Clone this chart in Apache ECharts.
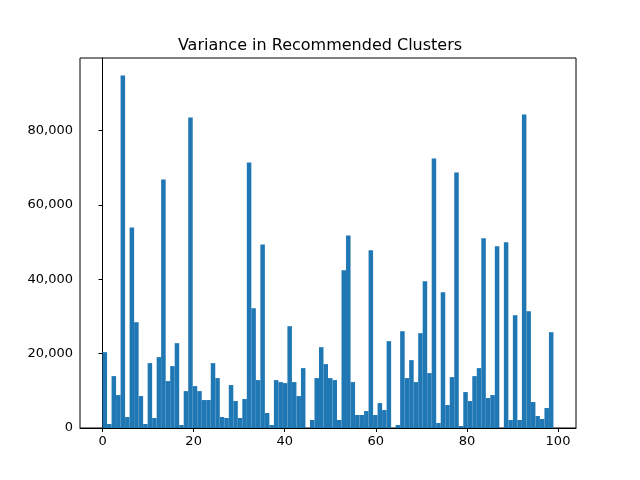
<!DOCTYPE html>
<html>
<head>
<meta charset="utf-8">
<script src="https://cdn.jsdelivr.net/npm/echarts@6/dist/echarts.min.js"></script>
<style>
  html, body { margin: 0; padding: 0; background: #fff; }
  #chart { width: 640px; height: 480px; }
</style>
</head>
<body>
<div id="chart"></div>
<script>
const TITLE = 'Variance in Recommended Clusters';
const BIN_WIDTH = 0.99;
const xTicks = [0, 20, 40, 60, 80, 100];
const yTicks = [0, 20000, 40000, 60000, 80000];

// bar heights, one per cluster 0..99
const variance = [
  20400, 1070, 13960, 8860, 94800, 2950, 53970, 28460, 8590, 1070,
  17450, 2690, 19060, 66860, 12620, 16650, 22820, 800, 9930, 83500,
  11280, 9930, 7520, 7520, 17450, 13430, 2950, 2690, 11550, 7250,
  2690, 7790, 71420, 32220, 12890, 49400, 4030, 800, 12890, 12350,
  12080, 27390, 12350, 8590, 16110, 0, 2150, 13430, 21750, 17180,
  13430, 12890, 2150, 42420, 51820, 12350, 3490, 3490, 4560, 47790,
  3490, 6710, 4830, 23360, 0, 800, 26040, 13430, 18260, 12350,
  25510, 39470, 14770, 72500, 1340, 36520, 6180, 13690, 68740, 540,
  9670, 7250, 13960, 16110, 51020, 8060, 8860, 48870, 0, 49940,
  2150, 30340, 2150, 84310, 31410, 6980, 3220, 2420, 5370, 25780,
];

const binStarts = variance.map((_, i) => i * BIN_WIDTH);
const bars = variance.map((v, i) => [binStarts[i], v]);

const chart = echarts.init(document.getElementById('chart'));
const axisLine = { show: true, lineStyle: { color: '#000', width: 1 } };
const axisLabel = { color: '#000', fontSize: 13, fontFamily: 'DejaVu Sans' };

chart.setOption({
  animation: false,
  title: {
    text: TITLE, left: 'center', top: 33,
    textStyle: { fontSize: 16, fontWeight: 'normal', color: '#000', fontFamily: 'DejaVu Sans' },
  },
  grid: { left: 80, right: 64, top: 58, bottom: 52, show: true, borderColor: '#000', borderWidth: 1 },
  xAxis: {
    type: 'value', min: -4.95, max: 103.95,
    axisLine, splitLine: { show: false },
    axisTick: { show: true, length: 4, lineStyle: { color: '#000' }, customValues: xTicks },
    axisLabel: { ...axisLabel, customValues: xTicks, margin: 7 },
  },
  yAxis: {
    type: 'value', min: 0, max: 99540,
    axisLine, splitLine: { show: false },
    axisTick: { show: true, length: 4, lineStyle: { color: '#000' }, customValues: yTicks },
    axisLabel: { ...axisLabel, customValues: yTicks, margin: 7 },
  },
  series: [{
    type: 'custom',
    data: bars,
    encode: { x: 0, y: 1 },
    renderItem: (params, api) => {
      const p0 = api.coord([api.value(0), 0]);
      const p1 = api.coord([api.value(0) + BIN_WIDTH, api.value(1)]);
      return {
        type: 'rect',
        shape: { x: p0[0], y: p1[1], width: p1[0] - p0[0], height: p0[1] - p1[1] },
        style: { fill: '#1f77b4' },
      };
    },
  }],
});
</script>
</body>
</html>
